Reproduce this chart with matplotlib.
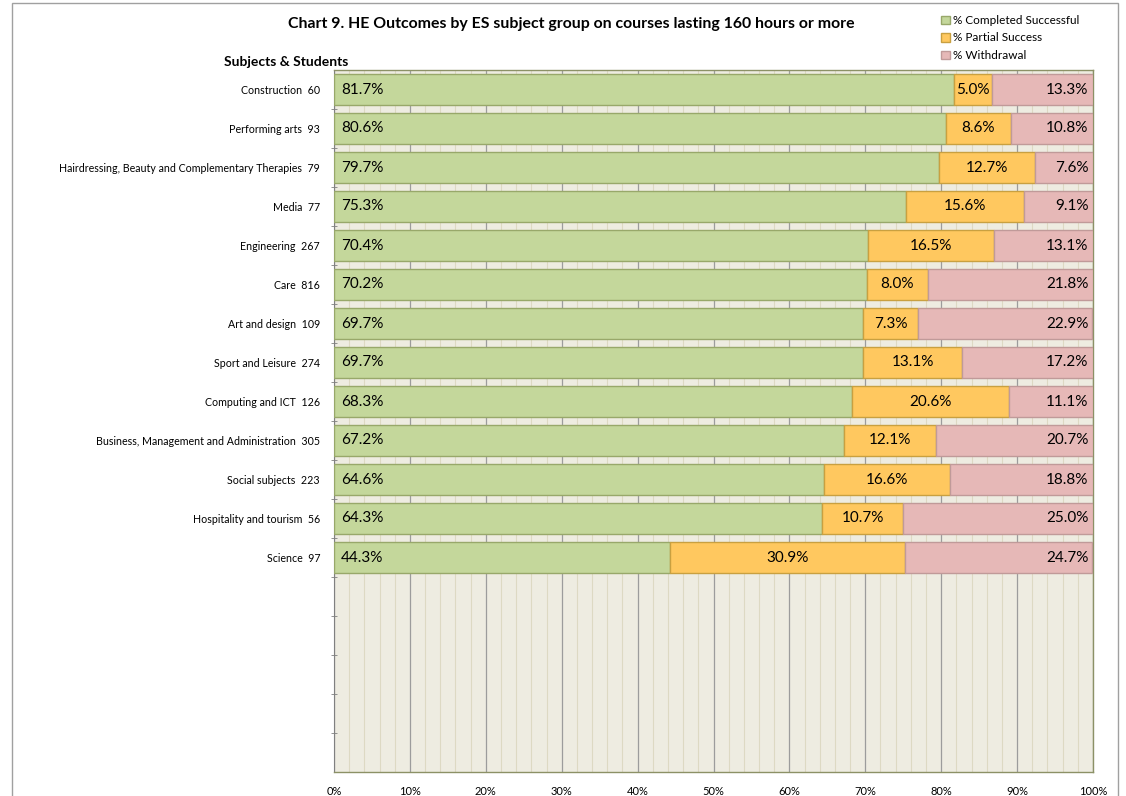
import matplotlib
matplotlib.use("Agg")
import matplotlib.pyplot as plt
from matplotlib.patches import Rectangle
from matplotlib.ticker import MultipleLocator, FuncFormatter

plt.rcParams['font.family'] = ['Lato', 'DejaVu Sans']

subjects = ["Construction", "Performing arts", "Hairdressing, Beauty and Complementary Therapies",
            "Media", "Engineering", "Care", "Art and design", "Sport and Leisure",
            "Computing and ICT", "Business, Management and Administration",
            "Social subjects", "Hospitality and tourism", "Science"]
students = [60, 93, 79, 77, 267, 816, 109, 274, 126, 305, 223, 56, 97]
completed = [81.7, 80.6, 79.7, 75.3, 70.4, 70.2, 69.7, 69.7, 68.3, 67.2, 64.6, 64.3, 44.3]
partial = [5.0, 8.6, 12.7, 15.6, 16.5, 8.0, 7.3, 13.1, 20.6, 12.1, 16.6, 10.7, 30.9]
withdrawal = [13.3, 10.8, 7.6, 9.1, 13.1, 21.8, 22.9, 17.2, 11.1, 20.7, 18.8, 25.0, 24.7]
n_rows = 18
series_names = ["% Completed Successful", "% Partial Success", "% Withdrawal"]

c_green, c_orange, c_pink = "#C4D79B", "#FFC85F", "#E6B8B7"
e_green, e_orange, e_pink = "#98A86A", "#C9A040", "#C09A99"

fig = plt.figure(figsize=(11.26, 7.96), dpi=100)
ax = fig.add_axes([334/1126, 24/796, 759/1126, 702/796])
ax.set_facecolor("#EEECE1")

y = list(range(len(subjects)))
h = 0.78
ax.barh(y, completed, height=h, color=c_green, edgecolor=e_green, linewidth=1.0,
        label=series_names[0], zorder=3)
left2 = completed
ax.barh(y, partial, left=left2, height=h, color=c_orange, edgecolor=e_orange, linewidth=1.0,
        label=series_names[1], zorder=3)
left3 = [a + b for a, b in zip(completed, partial)]
ax.barh(y, withdrawal, left=left3, height=h, color=c_pink, edgecolor=e_pink, linewidth=1.0,
        label=series_names[2], zorder=3)

for i in y:
    ax.text(0.9, i, f"{completed[i]:.1f}%", ha="left", va="center", fontsize=11, zorder=4)
    ax.text(completed[i] + partial[i] / 2, i, f"{partial[i]:.1f}%", ha="center", va="center",
            fontsize=11, zorder=4)
    ax.text(99.4, i, f"{withdrawal[i]:.1f}%", ha="right", va="center", fontsize=11, zorder=4)

ax.set_xlim(0, 100)
ax.set_ylim(n_rows - 0.5, -0.5)
ax.xaxis.set_major_locator(MultipleLocator(10))
ax.xaxis.set_minor_locator(MultipleLocator(2))
ax.xaxis.set_major_formatter(FuncFormatter(lambda v, p: f"{v:.0f}%"))
ax.grid(axis="x", which="minor", color="#DDD9C3", linewidth=0.8, zorder=0)
ax.grid(axis="x", which="major", color="#9C9C9C", linewidth=0.9, zorder=1)
ax.tick_params(axis="x", which="both", length=0, pad=10, labelsize=8)

ax.set_yticks([i for i in range(n_rows)])
ax.set_yticklabels([f"{s}  {n}" for s, n in zip(subjects, students)] + [""] * (n_rows - len(subjects)))
ax.set_yticks([i + 0.5 for i in range(n_rows - 1)], minor=True)
ax.tick_params(axis="y", which="major", length=0, pad=10, labelsize=7.7)
ax.tick_params(axis="y", which="minor", length=5, direction="inout", color="#808080")

for side in ["top", "right", "bottom"]:
    ax.spines[side].set_color("#8C9166")
    ax.spines[side].set_linewidth(1.0)
ax.spines["left"].set_color("#808080")

fig.text(571/1126, 1 - 24/796, "Chart 9. HE Outcomes by ES subject group on courses lasting 160 hours or more",
         ha="center", va="center", fontsize=11.4, fontweight="bold")
fig.text(348/1126, 1 - 62/796, "Subjects & Students", ha="right", va="center",
         fontsize=10, fontweight="bold")

leg = fig.legend(loc="upper left", bbox_to_anchor=(941/1126, 1 - 15/796), frameon=False,
                 fontsize=8.5, handlelength=0.75, handleheight=0.75, handletextpad=0.3,
                 labelspacing=0.55, borderaxespad=0, borderpad=0)

fig.patches.append(Rectangle((12/1126, -0.05), 1106/1126, 1.05 - 3/796, transform=fig.transFigure,
                             fill=False, edgecolor="#A0A0A0", linewidth=1.0))

fig.savefig("out.png", dpi=100)
